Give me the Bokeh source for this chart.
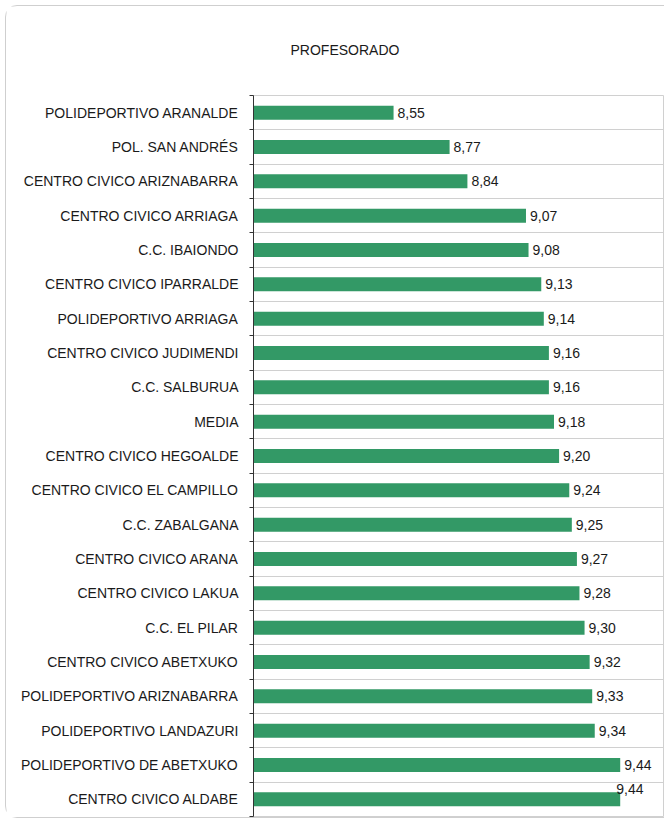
from bokeh.plotting import figure
from bokeh.models import Range1d, FixedTicker, ColumnDataSource, LabelSet
from bokeh.core.properties import value
from bokeh.embed import file_html
from bokeh.resources import INLINE

categories = [
    "POLIDEPORTIVO ARANALDE", "POL. SAN ANDRÉS", "CENTRO CIVICO ARIZNABARRA",
    "CENTRO CIVICO ARRIAGA", "C.C. IBAIONDO", "CENTRO CIVICO IPARRALDE",
    "POLIDEPORTIVO ARRIAGA", "CENTRO CIVICO JUDIMENDI", "C.C. SALBURUA", "MEDIA",
    "CENTRO CIVICO HEGOALDE", "CENTRO CIVICO EL CAMPILLO", "C.C. ZABALGANA",
    "CENTRO CIVICO ARANA", "CENTRO CIVICO LAKUA", "C.C. EL PILAR",
    "CENTRO CIVICO ABETXUKO", "POLIDEPORTIVO ARIZNABARRA", "POLIDEPORTIVO LANDAZURI",
    "POLIDEPORTIVO DE ABETXUKO", "CENTRO CIVICO ALDABE",
]
values = [8.55, 8.77, 8.84, 9.07, 9.08, 9.13, 9.14, 9.16, 9.16, 9.18, 9.20,
          9.24, 9.25, 9.27, 9.28, 9.30, 9.32, 9.33, 9.34, 9.44, 9.44]
x_min, x_max = 8.0, 9.61
title_text = "PROFESORADO"

FONT = "Liberation Sans"
GREEN = "#339966"
FS = "14px"

n = len(categories)
idx = list(range(n))
labels = [f"{v:.2f}".replace(".", ",") for v in values]

src = ColumnDataSource(dict(y=idx[:-1], v=values[:-1], lab=labels[:-1]))
src_last = ColumnDataSource(dict(y=idx[-1:], v=values[-1:], lab=labels[-1:]))
bars = ColumnDataSource(dict(y=idx, v=values))

p = figure(
    output_backend="svg", toolbar_location=None,
    frame_width=410, frame_height=721,
    min_border_left=247, min_border_right=12, min_border_top=88, min_border_bottom=1,
    x_range=Range1d(x_min, x_max), y_range=Range1d(n - 0.5, -0.5),
    title=title_text,
)
p.styles = {"border": "1px solid #cfcfcf", "border-radius": "12px",
            "margin-left": "5px", "margin-top": "5px"}
p.title.align = "left"
p.title.vertical_align = "top"
p.title.offset = 37
p.title.text_font = FONT
p.title.text_font_size = FS
p.title.text_font_style = "normal"
p.title.text_color = "#1a1a1a"
p.title.standoff = 71
p.outline_line_color = "#d0d0d0"
p.background_fill_color = "white"
p.border_fill_color = "white"

p.hbar(y="y", left=x_min, right="v", height=0.41, source=bars,
       fill_color=GREEN, line_color=None)

p.add_layout(LabelSet(x="v", y="y", text="lab", source=src, x_offset=4,
                      text_baseline="middle", text_font=value(FONT),
                      text_font_size=FS, text_color="#1a1a1a"))
p.add_layout(LabelSet(x="v", y="y", text="lab", source=src_last, x_offset=-4, y_offset=10,
                      text_baseline="middle", text_font=value(FONT),
                      text_font_size=FS, text_color="#1a1a1a"))

p.xaxis.visible = False
p.xgrid.grid_line_color = None

yax = p.yaxis[0]
yax.ticker = FixedTicker(ticks=idx, minor_ticks=[i - 0.5 for i in range(n + 1)])
yax.major_label_overrides = {i: c for i, c in enumerate(categories)}
yax.major_tick_out = 0
yax.major_tick_in = 0
yax.minor_tick_out = 4
yax.minor_tick_in = 0
yax.minor_tick_line_color = "#333333"
yax.axis_line_color = "#333333"
yax.major_label_text_font = FONT
yax.major_label_text_font_size = FS
yax.major_label_text_color = "#1a1a1a"
yax.major_label_standoff = 11

p.ygrid.grid_line_color = None
p.ygrid.minor_grid_line_color = "#d0d0d0"

open("out.html", "w").write(file_html(p, INLINE))
